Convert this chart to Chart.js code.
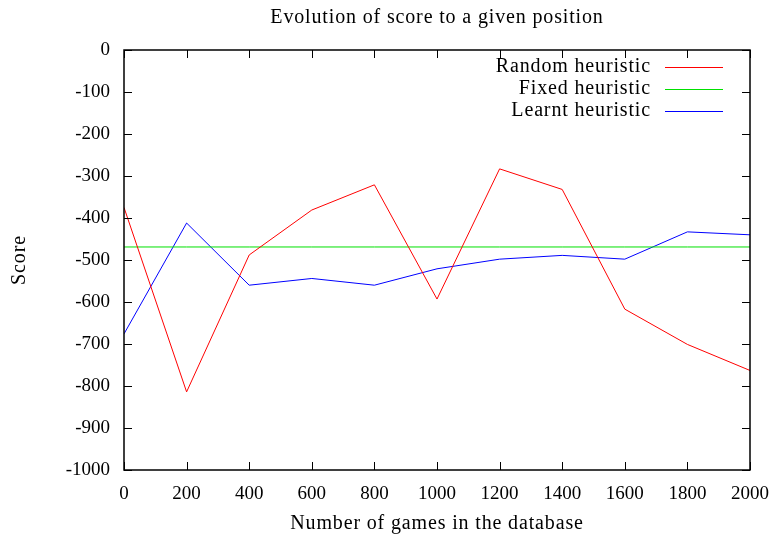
<!DOCTYPE html>
<html><head><meta charset="utf-8">
<script src="https://cdn.jsdelivr.net/npm/chart.js@4/dist/chart.umd.min.js"></script>
<style>html,body{margin:0;padding:0;background:#fff}#wrap{width:776px;height:537px}</style>
</head><body><div id="wrap"><canvas id="c"></canvas></div>
<script>
const games = [0,200,400,600,800,1000,1200,1400,1600,1800,2000];
const randomHeuristic = [-375,-814,-488,-381,-321,-593,-283,-332,-617,-701,-763];
const fixedHeuristic = [-469,-469,-469,-469,-469,-469,-469,-469,-469,-469,-469];
const learntHeuristic = [-676,-412,-560,-544,-560,-521,-498,-489,-498,-433,-440];
const seriesNames = ["Random heuristic","Fixed heuristic","Learnt heuristic"];
const seriesColors = ["rgb(255,0,0)","rgb(0,224,0)","rgb(0,0,255)"];
const titleText = "Evolution of score to a given position";
const xTitleText = "Number of games in the database";
const yTitleText = "Score";
const FONT = "'Liberation Serif','DejaVu Serif',serif";

const pts = arr => games.map((g,i)=>({x:g,y:arr[i]}));

const framePlugin = {
  id:'frame',
  afterDatasetsDraw(chart){
    const ctx = chart.ctx, a = chart.chartArea;
    const xs = chart.scales.x, ys = chart.scales.y;
    ctx.save();
    ctx.strokeStyle = '#000'; ctx.lineWidth = 1.5;
    ctx.strokeRect(a.left, a.top, a.right-a.left, a.bottom-a.top);
    const L = 8;
    ctx.lineWidth = 1;
    ctx.beginPath();
    xs.ticks.forEach(t=>{
      const p = Math.round(xs.getPixelForValue(t.value))+0.5;
      ctx.moveTo(p, a.bottom); ctx.lineTo(p, a.bottom-L);
      ctx.moveTo(p, a.top); ctx.lineTo(p, a.top+L);
    });
    ys.ticks.forEach(t=>{
      const p = Math.round(ys.getPixelForValue(t.value))+0.5;
      ctx.moveTo(a.left, p); ctx.lineTo(a.left+L, p);
      ctx.moveTo(a.right, p); ctx.lineTo(a.right-L, p);
    });
    ctx.stroke();
    // text
    ctx.font = "20px " + FONT;
    ctx.letterSpacing = "0.85px";
    ctx.fillStyle = '#000';
    ctx.textBaseline = 'middle';
    ctx.textAlign = 'right';
    const rows = [67, 89, 111];
    seriesNames.forEach((n,i)=>{
      ctx.fillText(n, 651, rows[i]);
    });
    seriesNames.forEach((n,i)=>{
      ctx.beginPath();
      ctx.strokeStyle = seriesColors[i]; ctx.lineWidth = 1;
      ctx.moveTo(665, rows[i]+0.5); ctx.lineTo(723, rows[i]+0.5);
      ctx.stroke();
    });
    ctx.textAlign = 'center';
    ctx.fillText(titleText, 437, 18);
    ctx.fillText(xTitleText, 437, 524);
    ctx.translate(20, 260);
    ctx.rotate(-Math.PI/2);
    ctx.fillText(yTitleText, 0, 0);
    ctx.restore();
  }
};

new Chart(document.getElementById('c'), {
  type:'line',
  data:{datasets:[
    {label:seriesNames[0], data:pts(randomHeuristic), borderColor:seriesColors[0], borderWidth:1, pointRadius:0, tension:0, fill:false},
    {label:seriesNames[1], data:pts(fixedHeuristic), borderColor:seriesColors[1], borderWidth:1, pointRadius:0, tension:0, fill:false},
    {label:seriesNames[2], data:pts(learntHeuristic), borderColor:seriesColors[2], borderWidth:1, pointRadius:0, tension:0, fill:false}
  ]},
  options:{
    responsive:true, maintainAspectRatio:false, animation:false,
    layout:{padding:{top:50,left:0,right:26,bottom:0}},
    plugins:{legend:{display:false}, title:{display:false}, tooltip:{enabled:false}},
    scales:{
      x:{type:'linear', min:0, max:2000,
        ticks:{stepSize:200, color:'#000', font:{family:FONT,size:19}, padding:13, maxRotation:0, autoSkip:false, callback:v=>String(v)},
        grid:{display:false, drawTicks:false},
        border:{display:false},
        afterFit(s){ s.height = 67; s.paddingLeft = 0; s.paddingRight = 0; }
      },
      y:{type:'linear', min:-1000, max:0,
        ticks:{stepSize:100, color:'#000', font:{family:FONT,size:19}, padding:14, callback:v=>String(v)},
        grid:{display:false, drawTicks:false},
        border:{display:false},
        afterFit(s){ s.width = 124; s.paddingTop = 0; s.paddingBottom = 0; }
      }
    }
  },
  plugins:[framePlugin]
});
</script></body></html>
